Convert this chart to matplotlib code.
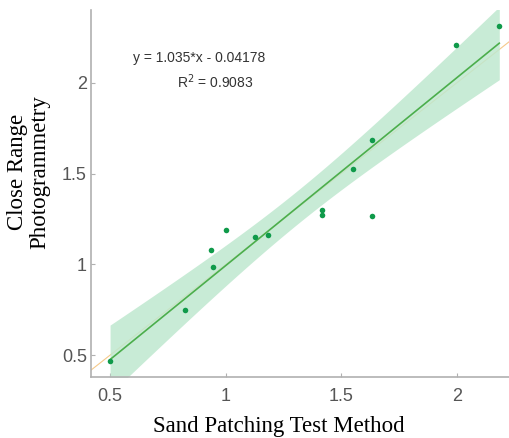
import numpy as np
import matplotlib
matplotlib.use("Agg")
import matplotlib.pyplot as plt

# Data
sand_patching = [0.500, 0.826, 0.935, 0.945, 1.003, 1.125, 1.183, 1.416, 1.416, 1.552, 1.633, 1.633, 1.994, 2.183]
close_range = [0.469, 0.748, 1.077, 0.985, 1.191, 1.153, 1.164, 1.299, 1.270, 1.524, 1.686, 1.268, 2.208, 2.314]
slope = 1.035
intercept = -0.04178
r_squared = 0.9083
x_ticks = [0.5, 1, 1.5, 2]
y_ticks = [0.5, 1, 1.5, 2]

x = np.array(sand_patching)
y = np.array(close_range)

fig = plt.figure(figsize=(5.09, 4.38), dpi=100)
ax = fig.add_axes([0.179, 0.139, 0.821, 0.838])
ax.set_xlim(0.418, 2.225)
ax.set_ylim(0.379, 2.40)

# identity line
lims = np.array([0.3, 2.5])
ax.plot(lims, lims, color="#f5c98a", lw=0.8, zorder=1)

# confidence band for the fit
n = len(x)
xs = np.linspace(x.min(), x.max(), 200)
yhat = slope * x + intercept
s = np.sqrt(np.sum((y - yhat) ** 2) / (n - 2))
sxx = np.sum((x - x.mean()) ** 2)
t = 2.179
half = t * s * np.sqrt(1.0 / n + (xs - x.mean()) ** 2 / sxx)
yfit = slope * xs + intercept
ax.fill_between(xs, yfit - half, yfit + half, color="#bfe8cf", alpha=0.85, lw=0, zorder=2)
ax.plot(xs, yfit, color="#4cae4c", lw=1.2, zorder=3)

ax.scatter(x, y, s=16, color="#0f9a4a", zorder=4, linewidths=0)

ax.text(0.598, 2.138, "y = 1.035*x - 0.04178", fontsize=10, family="Liberation Sans",
        color="#333333", ha="left", va="center")
ax.text(0.79, 2.005, "R$^2$ = " + f"{r_squared:.4f}", fontsize=10, family="Liberation Sans",
        color="#333333", ha="left", va="center")

ax.set_xticks(x_ticks)
ax.set_xticklabels(["0.5", "1", "1.5", "2"])
ax.set_yticks(y_ticks)
ax.set_yticklabels(["0.5", "1", "1.5", "2"])
for sp in ["top", "right"]:
    ax.spines[sp].set_visible(False)
for sp in ["left", "bottom"]:
    ax.spines[sp].set_color("#b0b0b0")
    ax.spines[sp].set_linewidth(1.2)
ax.tick_params(axis="x", direction="in", length=3, color="#b0b0b0", labelsize=13,
               labelcolor="#555555", pad=8)
ax.tick_params(axis="y", direction="in", length=3, color="#b0b0b0", labelsize=13,
               labelcolor="#555555", pad=3)
for lab in ax.get_xticklabels() + ax.get_yticklabels():
    lab.set_family("Liberation Sans")

ax.set_xlabel("Sand Patching Test Method", family="Liberation Serif", fontsize=16.5, labelpad=3)
ax.xaxis.set_label_coords(0.45, -0.105)
ax.set_ylabel("Close Range\nPhotogrammetry", family="Liberation Serif", fontsize=16.5,
              linespacing=1.05)
ax.yaxis.set_label_coords(-0.098, 0.56)

fig.savefig("out.png", dpi=100)
